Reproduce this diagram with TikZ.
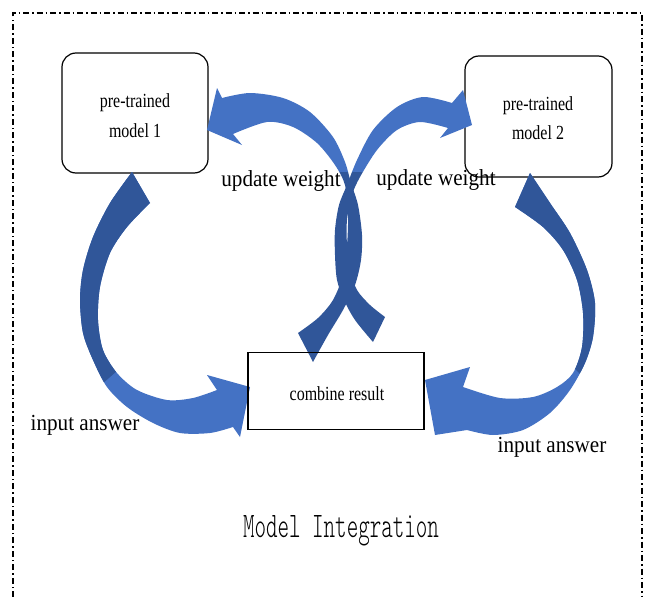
\documentclass[tikz,border=0pt]{standalone}
\usepackage{fontspec}
\usepackage{graphicx}
\setmainfont{Liberation Serif}
\newfontfamily\titlefont{Latin Modern Mono Light}
\definecolor{arrlight}{RGB}{68,114,196}
\definecolor{arrdark}{RGB}{48,86,153}
\begin{document}
\begin{tikzpicture}[x=1pt,y=-1pt,
  frameline/.style={line width=1.9pt, dash pattern=on 6pt off 3pt on 1.5pt off 3pt},
  modelbox/.style={draw, rounded corners=14pt, line width=1.2pt, minimum width=146pt, minimum height=120pt, inner sep=0pt},
  combbox/.style={draw, line width=1.7pt, minimum width=176pt, minimum height=77pt, inner sep=0pt},
  boxtext/.style={font=\fontsize{20}{24}\selectfont, inner sep=0pt, anchor=base},
  biglabel/.style={font=\fontsize{23}{27}\selectfont, inner sep=0pt, anchor=base},
  titletext/.style={font=\fontsize{36}{40}\titlefont, inner sep=0pt, anchor=base}]
\useasboundingbox (0,0) rectangle (649,597);

% frame
\draw[frameline] (13,597) -- (13,13) -- (642,13) -- (642,597);

% model boxes
\node[modelbox] (m1) at (135,113) {};
\node[modelbox, minimum width=147pt, minimum height=121pt] (m2) at (538.5,116.5) {};

% big left arrow (input answer)
\begin{scope}
\clip (132,172) -- plot[smooth] coordinates {(132,172) (110,203) (93,237) (83,270) (80,300) (83,333) (93,360) (107,387) (127,407) (153,423) (180,433) (210,433) (233,427)} -- (240,437) -- (250,387) -- (207,375) -- plot[smooth] coordinates {(217,390) (193,398) (167,400) (137,390) (117,373) (103,350) (98,320) (100,287) (110,253) (127,227) (150,203)} -- cycle;
\fill[arrlight] (20,150) rectangle (270,460);
\fill[arrdark] (30,150) -- (260,150) -- (260,246) -- (30,447) -- cycle;
\end{scope}

% big right arrow (input answer)
\begin{scope}
\clip (530,173) -- plot[smooth] coordinates {(530,173) (550,203) (570,233) (587,270) (595,303) (593,337) (585,363) (570,390) (550,413) (523,430) (493,435) (467,430)} -- (435,435) -- (425,380) -- (470,367) -- plot[smooth] coordinates {(463,387) (500,398) (533,397) (557,387) (573,373) (582,347) (583,313) (577,280) (563,250) (543,227) (515,207)} -- cycle;
\fill[arrlight] (400,150) rectangle (620,460);
\fill[arrdark] (400,150) -- (640,150) -- (640,434) -- (400,194) -- cycle;
\end{scope}

% update weight arrow to model 1
\begin{scope}
\clip (298,333) -- (313,362) -- plot[smooth] coordinates {(313,362) (328,335) (343,310) (355,285) (361,260) (362,235) (358,205) (351,183) (345,162) (333,137) (310,112) (283,98) (250,93) (222,98)} -- (217,88) -- (207,130) -- (242,145) -- plot[smooth] coordinates {(233,134) (267,122) (293,127) (317,143) (335,165) (345,185) (348,215) (347,245) (343,275) (333,300) (318,318) (298,333)} -- cycle;
\fill[arrlight] (200,80) rectangle (380,172);
\fill[arrdark] (200,172) rectangle (380,370);
\end{scope}

% update weight arrow to model 2
\begin{scope}
\clip (385,317) -- (373,342) -- plot[smooth] coordinates {(373,342) (355,320) (344,300) (337,280) (335,255) (335,230) (339,205) (347,185) (357,160) (373,130) (397,107) (423,97) (452,103)} -- (463,90) -- (472,125) -- (440,138) -- plot[smooth] coordinates {(448,128) (420,122) (397,130) (377,150) (360,177) (352,195) (347,220) (347,245) (350,270) (357,290) (370,305) (385,317)} -- cycle;
\fill[arrlight] (320,80) rectangle (480,172);
\fill[arrdark] (320,172) rectangle (480,370);
\end{scope}

% combine box
\node[combbox] (cr) at (336,391) {};

% texts
\node[boxtext] (m1a) at (135,107) {\scalebox{0.8}[1]{pre-trained}};
\node[boxtext] (m1b) at (135,137) {\scalebox{0.8}[1]{model 1}};
\node[boxtext] (m2a) at (538,110) {\scalebox{0.8}[1]{pre-trained}};
\node[boxtext] (m2b) at (538,139) {\scalebox{0.8}[1]{model 2}};
\node[boxtext] (crt) at (337,400) {\scalebox{0.8}[1]{combine result}};

\node[biglabel] (uw1) at (281,186) {\scalebox{0.92}[1]{update weight}};
\node[biglabel] (uw2) at (436,185) {\scalebox{0.92}[1]{update weight}};
\node[biglabel] (ia1) at (85,430) {\scalebox{0.92}[1]{input answer}};
\node[biglabel] (ia2) at (552,452) {\scalebox{0.92}[1]{input answer}};

\node[titletext] (title) at (341,537) {\scalebox{0.61}[1]{Model Integration}};
\end{tikzpicture}
\end{document}
